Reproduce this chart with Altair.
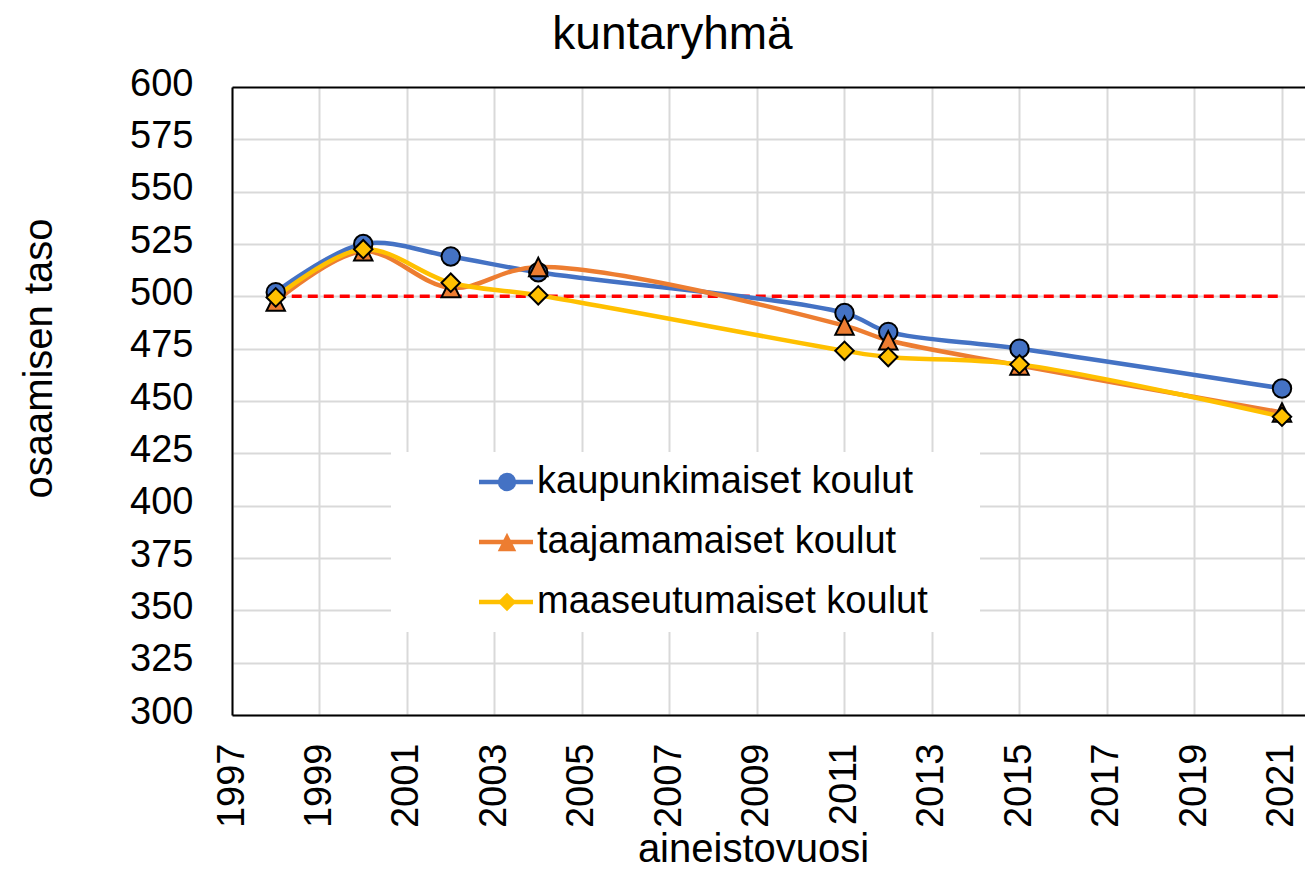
import altair as alt
import pandas as pd

# ---- data ----
years = [1998, 2000, 2002, 2004, 2011, 2012, 2015, 2021]
kaupunki = [502, 525, 519, 511.5, 492, 483, 475, 456]
taajama = [497.5, 521.5, 504, 514, 486, 479, 467, 444.5]
maaseutu = [499.5, 522.5, 506.5, 500.5, 474, 471, 467.5, 442.5]
series_names = ["kaupunkimaiset koulut", "taajamamaiset koulut", "maaseutumaiset koulut"]
series_colors = ["#4472C4", "#ED7D31", "#FFC000"]
series_shapes = ["circle", "M0,-1L1,1L-1,1Z", "diamond"]
ref_years = [1998, 2021]
ref_level = 500
x_ticks = list(range(1997, 2022, 2))
y_ticks = list(range(300, 601, 25))

FONT = "Liberation Sans Narrow, Liberation Sans, Arial"
FS = 38

rows = []
for i, (name, vals) in enumerate(zip(series_names, [kaupunki, taajama, maaseutu])):
    for yr, v in zip(years, vals):
        rows.append({"vuosi": yr, "taso": v, "sarja": name, "merkki": name + " ", "jarjestys": i})
df = pd.DataFrame(rows)
marker_domain = [n + " " for n in series_names]

ref_df = pd.DataFrame({"vuosi": ref_years, "taso": [ref_level] * len(ref_years)})

x_scale = alt.Scale(domain=[1997, 2021.526], nice=False, zero=False)
y_scale = alt.Scale(domain=[300, 600], nice=False, zero=False)

x_axis = alt.Axis(
    values=x_ticks, format="d", title="aineistovuosi",
    labelAngle=270, labelFont=FONT, labelFontSize=FS, labelColor="black",
    labelPadding=28, ticks=False, tickSize=0, labelFlush=False, labelOverlap=False,
    labelBound=False, domainColor="black", domainWidth=2,
    gridColor="#D9D9D9", gridWidth=2,
    titleFont=FONT, titleFontSize=40, titleFontWeight="normal", titleColor="black",
    titleX=521, titleY=146, titleAlign="center", titleBaseline="alphabetic",
)
y_axis = alt.Axis(
    values=y_ticks, format="d", title="osaamisen taso",
    labelFont=FONT, labelFontSize=FS, labelColor="black", labelPadding=39,
    labelOffset=-3, ticks=False, tickSize=0, labelFlush=False, labelOverlap=False,
    labelBound=False, domainColor="black", domainWidth=2,
    gridColor={"condition": {"test": "datum.value == 600", "value": "black"}, "value": "#D9D9D9"},
    gridWidth=2,
    titleFont=FONT, titleFontSize=40, titleFontWeight="normal", titleColor="black",
    titleAngle=270, titleX=-181, titleY=271, titleAlign="center", titleBaseline="alphabetic",
)

base = alt.Chart(df)

ref_line = alt.Chart(ref_df).mark_line(color="#FF0000", strokeWidth=3.5, strokeDash=[10, 6]).encode(
    x=alt.X("vuosi:Q", scale=x_scale, axis=x_axis),
    y=alt.Y("taso:Q", scale=y_scale, axis=y_axis),
)

legend_line = alt.Legend(
    title=None, orient="none", legendX=159, legendY=365,
    symbolType="M-2.8,0H2.6M45.3,0", symbolSize=400, symbolStrokeWidth=4.5,
    symbolOffset=86,
    labelFont=FONT, labelFontSize=FS, labelColor="black", labelOffset=11, labelLimit=2000,
    rowPadding=22, padding=11, fillColor="white",
)
lines = base.mark_line(strokeWidth=4.5, interpolate="catmull-rom").encode(
    x=alt.X("vuosi:Q", scale=x_scale, axis=x_axis),
    y=alt.Y("taso:Q", scale=y_scale, axis=y_axis),
    color=alt.Color("sarja:N", scale=alt.Scale(domain=series_names, range=series_colors), legend=legend_line),
    order=alt.Order("vuosi:Q"),
)

legend_marker = alt.Legend(
    title=None, orient="none", legendX=245, legendY=365,
    symbolSize=340, symbolStrokeColor="black", symbolStrokeWidth=2,
    labelFont=FONT, labelFontSize=FS, labelOpacity=0, labelOffset=9, labelLimit=2000,
    rowPadding=22, padding=11,
)
points = base.mark_point(filled=True, size=340, stroke="black", strokeWidth=2, opacity=1).encode(
    x=alt.X("vuosi:Q", scale=x_scale, axis=x_axis),
    y=alt.Y("taso:Q", scale=y_scale, axis=y_axis),
    fill=alt.Fill("merkki:N", scale=alt.Scale(domain=marker_domain, range=series_colors), legend=legend_marker),
    shape=alt.Shape("merkki:N", scale=alt.Scale(domain=marker_domain, range=series_shapes), legend=legend_marker),
    order=alt.Order("jarjestys:Q"),
)

chart = alt.layer(ref_line, lines, points).properties(
    width=1073, height=628,
    title=alt.TitleParams(
        "kuntaryhmä", font=FONT, fontSize=46, fontWeight="normal", color="black",
        anchor="middle", frame="group", baseline="alphabetic", offset=-30, dx=-96,
    ),
    padding={"left": 224, "top": 79, "right": 0, "bottom": 153},
    autosize=alt.AutoSizeParams(type="none"),
    background="white",
).configure_view(stroke=None)

chart.save("out.html", embed_options={"renderer": "svg", "actions": False})
